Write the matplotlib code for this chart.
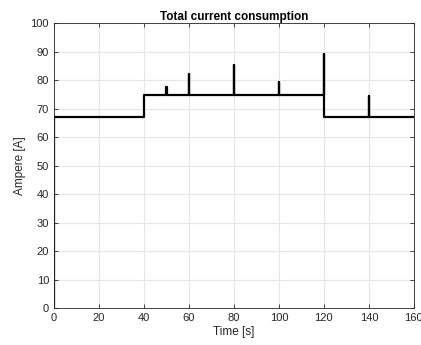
import matplotlib
matplotlib.use("Agg")
import matplotlib.pyplot as plt
import numpy as np

plt.rcParams['font.family'] = ['Liberation Sans', 'DejaVu Sans']

# Step levels
seg_start = [0, 40, 120]
seg_end = [40, 120, 160]
seg_level = [67.2, 74.7, 67.2]
# Spikes (time, peak, duration)
spike_t = [50, 60, 80, 100, 120, 140]
spike_peak = [77.5, 82.0, 85.3, 79.3, 89.0, 74.5]
spike_w = [0.5, 0.2, 0.2, 0.2, 0.2, 0.2]
start_value = 0.0


def level_at(t):
    for s, e, v in zip(seg_start, seg_end, seg_level):
        if s <= t < e:
            return v
    return seg_level[-1]


items = []
for s, v in zip(seg_start, seg_level):
    items.append((s, 'level', v))
for st, pk, w in zip(spike_t, spike_peak, spike_w):
    items.append((st, 'spike', (pk, w)))
items.sort(key=lambda x: (x[0], 0 if x[1] == 'spike' else 1))

tx = [0.0]
ty = [start_value]
for tt, kind, val in items:
    if kind == 'level':
        tx += [tt, tt]
        ty += [ty[-1], val]
    else:
        pk, w = val
        base_before = ty[-1]
        base_after = level_at(tt + w + 1e-6)
        tx += [tt, tt, tt + w, tt + w]
        ty += [base_before, pk, pk, base_after]
tx.append(seg_end[-1])
ty.append(ty[-1])

fig = plt.figure(figsize=(4.21, 3.45), dpi=100)
ax = fig.add_axes([0.128, 0.107, 0.855, 0.826])
ax.plot(tx, ty, color='black', linewidth=1.6)
ax.set_xlim(0, 160)
ax.set_ylim(0, 100)
ax.set_xticks(np.arange(0, 161, 20))
ax.set_yticks(np.arange(0, 101, 10))
ax.grid(True, color='#e6e6e6', linewidth=0.8)
ax.set_axisbelow(True)
ax.tick_params(direction='in', top=True, right=True, labelsize=8, length=3,
               colors='#262626', width=0.6, pad=3.5)
for sp in ax.spines.values():
    sp.set_color('#262626')
    sp.set_linewidth(0.6)
ax.set_xlabel('Time [s]', fontsize=8.5, color='#262626', labelpad=2)
ax.set_ylabel('Ampere [A]', fontsize=8.5, color='#262626', labelpad=3)
ax.set_title('Total current consumption', fontsize=8.5, fontweight='bold', pad=2)
fig.savefig('out.png', dpi=100)
